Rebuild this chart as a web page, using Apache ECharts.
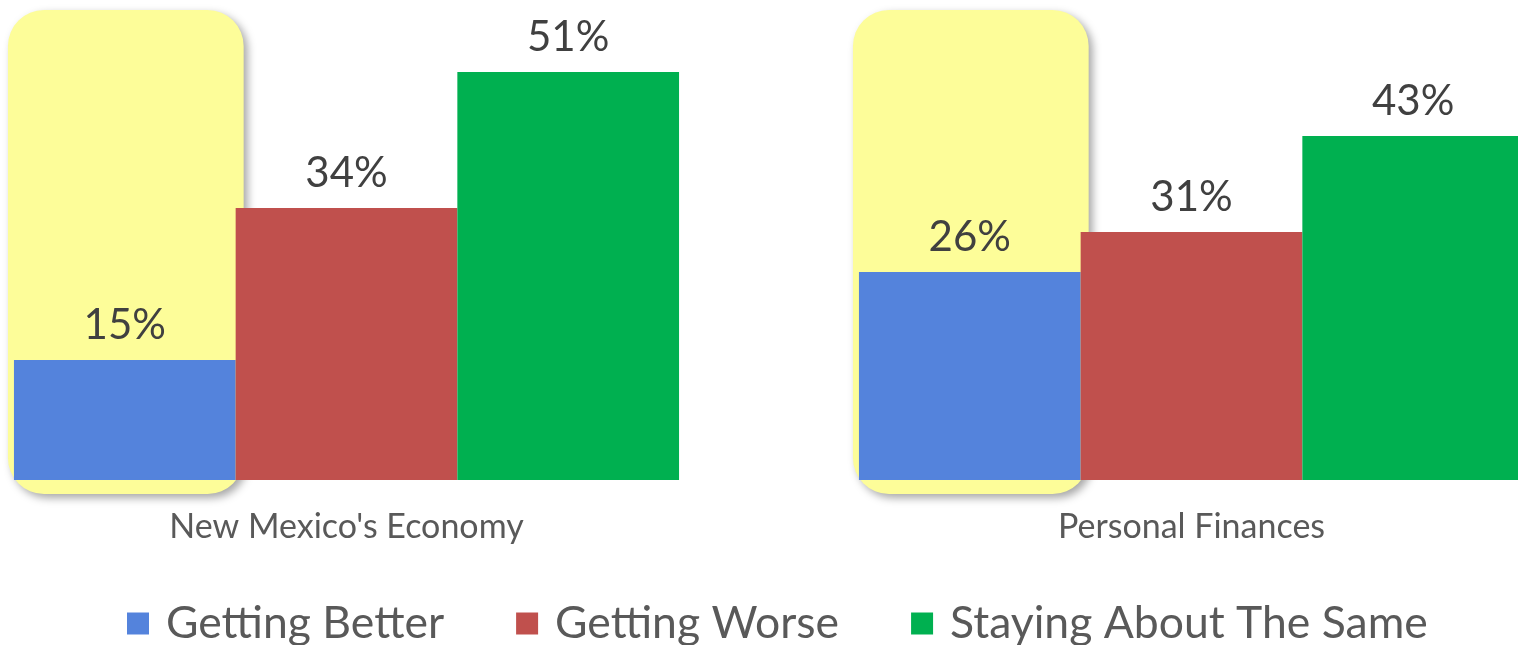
<!DOCTYPE html>
<html>
<head>
<meta charset="utf-8">
<script src="https://cdn.jsdelivr.net/npm/echarts@6/dist/echarts.min.js"></script>
<style>
  html, body { margin: 0; padding: 0; background: #fff; }
  #chart { width: 1518px; height: 645px; }
</style>
</head>
<body>
<div id="chart"></div>
<script>
  var categories = ["New Mexico's Economy", 'Personal Finances'];
  var seriesNames = ['Getting Better', 'Getting Worse', 'Staying About The Same'];
  var gettingBetter = [15, 26];
  var gettingWorse = [34, 31];
  var stayingSame = [51, 43];
  var seriesColors = ['#5483DC', '#C0504D', '#00B050'];
  var highlighted = [0, 1]; // category indexes with yellow box behind "Getting Better"

  var font = 'Lato, "Open Sans", sans-serif';
  var barW = 221.7;
  var chart = echarts.init(document.getElementById('chart'), null, { renderer: 'canvas' });

  function barSeries(name, data, color) {
    return {
      name: name,
      type: 'bar',
      data: data,
      barWidth: barW,
      barGap: '0%',
      itemStyle: { color: color },
      z: 3,
      label: {
        show: true,
        position: 'top',
        distance: 14,
        formatter: '{c}%',
        color: '#404040',
        fontFamily: font,
        fontSize: 42
      }
    };
  }

  chart.setOption({
    backgroundColor: '#ffffff',
    animation: false,
    grid: { left: 346.5, right: 326.5, top: 0, bottom: 165 },
    legend: {
      top: 601,
      left: 127,
      padding: 0,
      itemWidth: 22,
      itemHeight: 22,
      itemGap: 72,
      icon: 'rect',
      textStyle: { color: '#595959', fontFamily: font, fontSize: 44.5, padding: [0, 0, 0, 12] },
      data: seriesNames
    },
    xAxis: {
      type: 'category',
      data: categories,
      boundaryGap: false,
      axisLine: { show: false },
      axisTick: { show: false },
      axisLabel: { color: '#595959', fontFamily: font, fontSize: 34, margin: 30 }
    },
    yAxis: {
      type: 'value',
      min: 0,
      max: 60,
      show: false,
      splitLine: { show: false }
    },
    series: [
      {
        name: 'highlight',
        type: 'custom',
        z: 1,
        silent: true,
        data: highlighted,
        renderItem: function (params, api) {
          var idx = api.value(0);
          var base = api.coord([idx, 0]);
          var left = base[0] - barW * 1.5 - 6;
          var top = api.coord([idx, 60])[1] + 10;
          return {
            type: 'rect',
            shape: { x: left, y: top, width: barW + 14, height: base[1] + 14 - top, r: 36 },
            style: {
              fill: '#FDFD99',
              shadowBlur: 8,
              shadowOffsetX: 4,
              shadowOffsetY: 4,
              shadowColor: 'rgba(0,0,0,0.35)'
            }
          };
        }
      },
      barSeries(seriesNames[0], gettingBetter, seriesColors[0]),
      barSeries(seriesNames[1], gettingWorse, seriesColors[1]),
      barSeries(seriesNames[2], stayingSame, seriesColors[2])
    ]
  });
</script>
</body>
</html>
